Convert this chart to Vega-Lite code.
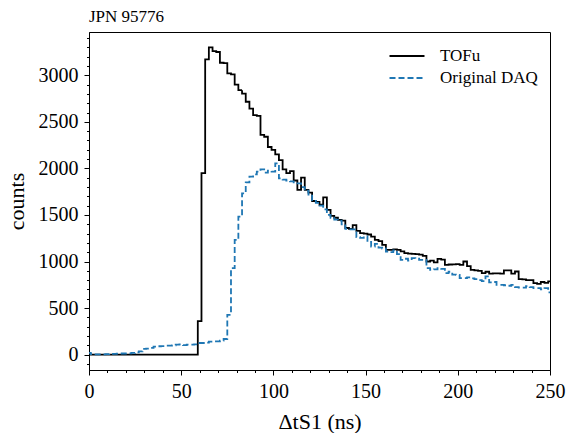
{
  "$schema": "https://vega.github.io/schema/vega-lite/v6.json",
  "width": 461,
  "height": 338,
  "autosize": {"type": "none"},
  "padding": {"left": 89, "top": 32, "right": 16, "bottom": 63},
  "title": {"text": "JPN 95776", "anchor": "start", "frame": "group", "fontSize": 17, "font": "Liberation Serif", "fontWeight": "normal", "color": "black", "baseline": "alphabetic", "offset": -7},
  "config": {
    "view": {"stroke": "black", "strokeWidth": 1},
    "font": "Liberation Serif",
    "axis": {"domainColor": "black", "domainWidth": 1, "tickColor": "black", "tickWidth": 1, "tickSize": 5, "labelFont": "Liberation Serif", "labelFontSize": 20, "labelColor": "black", "titleFont": "Liberation Serif", "titleFontSize": 22, "titleFontWeight": "normal", "titleColor": "black", "grid": false, "labelPadding": 6, "labelOverlap": false, "labelFlush": false},
    "legend": {"orient": "none", "legendX": 308, "legendY": 14, "title": null, "labelFont": "Liberation Serif", "labelFontSize": 17, "labelColor": "black", "symbolType": "M-2,0H2", "symbolSize": 306, "symbolStrokeWidth": 1.8, "labelOffset": 23, "rowPadding": 4, "padding": 0}
  },
  "datasets": {
    "h": [
      {"t":-1,"c":0,"s":"TOFu"},{"t":1,"c":0,"s":"TOFu"},{"t":3,"c":0,"s":"TOFu"},{"t":5,"c":0,"s":"TOFu"},{"t":7,"c":0,"s":"TOFu"},{"t":9,"c":0,"s":"TOFu"},{"t":11,"c":0,"s":"TOFu"},{"t":13,"c":0,"s":"TOFu"},{"t":15,"c":0,"s":"TOFu"},{"t":17,"c":0,"s":"TOFu"},{"t":19,"c":0,"s":"TOFu"},{"t":21,"c":0,"s":"TOFu"},{"t":23,"c":0,"s":"TOFu"},{"t":25,"c":0,"s":"TOFu"},{"t":27,"c":0,"s":"TOFu"},{"t":29,"c":0,"s":"TOFu"},{"t":31,"c":0,"s":"TOFu"},{"t":33,"c":0,"s":"TOFu"},{"t":35,"c":0,"s":"TOFu"},{"t":37,"c":0,"s":"TOFu"},{"t":39,"c":0,"s":"TOFu"},{"t":41,"c":0,"s":"TOFu"},{"t":43,"c":0,"s":"TOFu"},{"t":45,"c":0,"s":"TOFu"},{"t":47,"c":0,"s":"TOFu"},{"t":49,"c":0,"s":"TOFu"},{"t":51,"c":0,"s":"TOFu"},{"t":53,"c":0,"s":"TOFu"},{"t":55,"c":0,"s":"TOFu"},{"t":57,"c":0,"s":"TOFu"},
      {"t":59,"c":360,"s":"TOFu"},{"t":61,"c":1950,"s":"TOFu"},{"t":63,"c":3170,"s":"TOFu"},{"t":65,"c":3300,"s":"TOFu"},{"t":67,"c":3260,"s":"TOFu"},{"t":69,"c":3250,"s":"TOFu"},{"t":71,"c":3135,"s":"TOFu"},{"t":73,"c":3130,"s":"TOFu"},{"t":75,"c":3020,"s":"TOFu"},{"t":77,"c":3010,"s":"TOFu"},{"t":79,"c":2900,"s":"TOFu"},{"t":81,"c":2840,"s":"TOFu"},{"t":83,"c":2804,"s":"TOFu"},{"t":85,"c":2716,"s":"TOFu"},{"t":87,"c":2643,"s":"TOFu"},{"t":89,"c":2572,"s":"TOFu"},{"t":91,"c":2565,"s":"TOFu"},{"t":93,"c":2360,"s":"TOFu"},{"t":95,"c":2340,"s":"TOFu"},{"t":97,"c":2230,"s":"TOFu"},{"t":99,"c":2200,"s":"TOFu"},{"t":101,"c":2150,"s":"TOFu"},{"t":103,"c":2090,"s":"TOFu"},{"t":105,"c":1990,"s":"TOFu"},{"t":107,"c":1950,"s":"TOFu"},{"t":109,"c":1970,"s":"TOFu"},{"t":111,"c":1870,"s":"TOFu"},{"t":113,"c":1770,"s":"TOFu"},{"t":115,"c":1900,"s":"TOFu"},{"t":117,"c":1770,"s":"TOFu"},{"t":119,"c":1740,"s":"TOFu"},{"t":121,"c":1650,"s":"TOFu"},{"t":123,"c":1640,"s":"TOFu"},{"t":125,"c":1610,"s":"TOFu"},{"t":127,"c":1690,"s":"TOFu"},{"t":129,"c":1554,"s":"TOFu"},{"t":131,"c":1490,"s":"TOFu"},{"t":133,"c":1470,"s":"TOFu"},{"t":135,"c":1447,"s":"TOFu"},{"t":137,"c":1440,"s":"TOFu"},{"t":139,"c":1360,"s":"TOFu"},{"t":141,"c":1350,"s":"TOFu"},{"t":143,"c":1390,"s":"TOFu"},{"t":145,"c":1330,"s":"TOFu"},{"t":147,"c":1304,"s":"TOFu"},{"t":149,"c":1300,"s":"TOFu"},{"t":151,"c":1290,"s":"TOFu"},{"t":153,"c":1268,"s":"TOFu"},{"t":155,"c":1233,"s":"TOFu"},{"t":157,"c":1220,"s":"TOFu"},{"t":159,"c":1179,"s":"TOFu"},{"t":161,"c":1125,"s":"TOFu"},{"t":163,"c":1125,"s":"TOFu"},{"t":165,"c":1130,"s":"TOFu"},{"t":167,"c":1125,"s":"TOFu"},{"t":169,"c":1110,"s":"TOFu"},{"t":171,"c":1090,"s":"TOFu"},{"t":173,"c":1085,"s":"TOFu"},{"t":175,"c":1082,"s":"TOFu"},{"t":177,"c":1080,"s":"TOFu"},{"t":179,"c":1075,"s":"TOFu"},{"t":181,"c":1060,"s":"TOFu"},{"t":183,"c":1000,"s":"TOFu"},{"t":185,"c":1010,"s":"TOFu"},{"t":187,"c":990,"s":"TOFu"},{"t":189,"c":1029,"s":"TOFu"},{"t":191,"c":1020,"s":"TOFu"},{"t":193,"c":965,"s":"TOFu"},{"t":195,"c":968,"s":"TOFu"},{"t":197,"c":970,"s":"TOFu"},{"t":199,"c":972,"s":"TOFu"},{"t":201,"c":965,"s":"TOFu"},{"t":203,"c":1000,"s":"TOFu"},{"t":205,"c":950,"s":"TOFu"},{"t":207,"c":911,"s":"TOFu"},{"t":209,"c":905,"s":"TOFu"},{"t":211,"c":900,"s":"TOFu"},{"t":213,"c":876,"s":"TOFu"},{"t":215,"c":890,"s":"TOFu"},{"t":217,"c":870,"s":"TOFu"},{"t":219,"c":872,"s":"TOFu"},{"t":221,"c":872,"s":"TOFu"},{"t":223,"c":870,"s":"TOFu"},{"t":225,"c":904,"s":"TOFu"},{"t":227,"c":904,"s":"TOFu"},{"t":229,"c":870,"s":"TOFu"},{"t":231,"c":893,"s":"TOFu"},{"t":233,"c":810,"s":"TOFu"},{"t":235,"c":808,"s":"TOFu"},{"t":237,"c":800,"s":"TOFu"},{"t":239,"c":800,"s":"TOFu"},{"t":241,"c":768,"s":"TOFu"},{"t":243,"c":760,"s":"TOFu"},{"t":245,"c":780,"s":"TOFu"},{"t":247,"c":770,"s":"TOFu"},{"t":249,"c":786,"s":"TOFu"},{"t":251,"c":786,"s":"TOFu"},
      {"t":-1,"c":18,"s":"Original DAQ"},{"t":1,"c":5,"s":"Original DAQ"},{"t":3,"c":2,"s":"Original DAQ"},{"t":5,"c":2,"s":"Original DAQ"},{"t":7,"c":3,"s":"Original DAQ"},{"t":9,"c":5,"s":"Original DAQ"},{"t":11,"c":8,"s":"Original DAQ"},{"t":13,"c":8,"s":"Original DAQ"},{"t":15,"c":10,"s":"Original DAQ"},{"t":17,"c":12,"s":"Original DAQ"},{"t":19,"c":12,"s":"Original DAQ"},{"t":21,"c":14,"s":"Original DAQ"},{"t":23,"c":18,"s":"Original DAQ"},{"t":25,"c":25,"s":"Original DAQ"},{"t":27,"c":36,"s":"Original DAQ"},{"t":29,"c":61,"s":"Original DAQ"},{"t":31,"c":65,"s":"Original DAQ"},{"t":33,"c":72,"s":"Original DAQ"},{"t":35,"c":85,"s":"Original DAQ"},{"t":37,"c":90,"s":"Original DAQ"},{"t":39,"c":92,"s":"Original DAQ"},{"t":41,"c":97,"s":"Original DAQ"},{"t":43,"c":97,"s":"Original DAQ"},{"t":45,"c":100,"s":"Original DAQ"},{"t":47,"c":107,"s":"Original DAQ"},{"t":49,"c":110,"s":"Original DAQ"},{"t":51,"c":103,"s":"Original DAQ"},{"t":53,"c":108,"s":"Original DAQ"},{"t":55,"c":107,"s":"Original DAQ"},{"t":57,"c":110,"s":"Original DAQ"},{"t":59,"c":125,"s":"Original DAQ"},{"t":61,"c":125,"s":"Original DAQ"},{"t":63,"c":130,"s":"Original DAQ"},{"t":65,"c":140,"s":"Original DAQ"},{"t":67,"c":143,"s":"Original DAQ"},{"t":69,"c":143,"s":"Original DAQ"},{"t":71,"c":150,"s":"Original DAQ"},{"t":73,"c":168,"s":"Original DAQ"},{"t":75,"c":428,"s":"Original DAQ"},{"t":77,"c":929,"s":"Original DAQ"},{"t":79,"c":1232,"s":"Original DAQ"},{"t":81,"c":1482,"s":"Original DAQ"},{"t":83,"c":1732,"s":"Original DAQ"},{"t":85,"c":1850,"s":"Original DAQ"},{"t":87,"c":1911,"s":"Original DAQ"},{"t":89,"c":1935,"s":"Original DAQ"},{"t":91,"c":1965,"s":"Original DAQ"},{"t":93,"c":1990,"s":"Original DAQ"},{"t":95,"c":1955,"s":"Original DAQ"},{"t":97,"c":1976,"s":"Original DAQ"},{"t":99,"c":1965,"s":"Original DAQ"},{"t":101,"c":2054,"s":"Original DAQ"},{"t":103,"c":1893,"s":"Original DAQ"},{"t":105,"c":1880,"s":"Original DAQ"},{"t":107,"c":1870,"s":"Original DAQ"},{"t":109,"c":1860,"s":"Original DAQ"},{"t":111,"c":1840,"s":"Original DAQ"},{"t":113,"c":1840,"s":"Original DAQ"},{"t":115,"c":1800,"s":"Original DAQ"},{"t":117,"c":1760,"s":"Original DAQ"},{"t":119,"c":1720,"s":"Original DAQ"},{"t":121,"c":1660,"s":"Original DAQ"},{"t":123,"c":1630,"s":"Original DAQ"},{"t":125,"c":1600,"s":"Original DAQ"},{"t":127,"c":1560,"s":"Original DAQ"},{"t":129,"c":1500,"s":"Original DAQ"},{"t":131,"c":1470,"s":"Original DAQ"},{"t":133,"c":1450,"s":"Original DAQ"},{"t":135,"c":1440,"s":"Original DAQ"},{"t":137,"c":1400,"s":"Original DAQ"},{"t":139,"c":1350,"s":"Original DAQ"},{"t":141,"c":1346,"s":"Original DAQ"},{"t":143,"c":1346,"s":"Original DAQ"},{"t":145,"c":1261,"s":"Original DAQ"},{"t":147,"c":1255,"s":"Original DAQ"},{"t":149,"c":1270,"s":"Original DAQ"},{"t":151,"c":1210,"s":"Original DAQ"},{"t":153,"c":1161,"s":"Original DAQ"},{"t":155,"c":1190,"s":"Original DAQ"},{"t":157,"c":1150,"s":"Original DAQ"},{"t":159,"c":1140,"s":"Original DAQ"},{"t":161,"c":1107,"s":"Original DAQ"},{"t":163,"c":1100,"s":"Original DAQ"},{"t":165,"c":1120,"s":"Original DAQ"},{"t":167,"c":1080,"s":"Original DAQ"},{"t":169,"c":1018,"s":"Original DAQ"},{"t":171,"c":1030,"s":"Original DAQ"},{"t":173,"c":1010,"s":"Original DAQ"},{"t":175,"c":1036,"s":"Original DAQ"},{"t":177,"c":1030,"s":"Original DAQ"},{"t":179,"c":1018,"s":"Original DAQ"},{"t":181,"c":1018,"s":"Original DAQ"},{"t":183,"c":929,"s":"Original DAQ"},{"t":185,"c":911,"s":"Original DAQ"},{"t":187,"c":915,"s":"Original DAQ"},{"t":189,"c":929,"s":"Original DAQ"},{"t":191,"c":920,"s":"Original DAQ"},{"t":193,"c":876,"s":"Original DAQ"},{"t":195,"c":890,"s":"Original DAQ"},{"t":197,"c":860,"s":"Original DAQ"},{"t":199,"c":857,"s":"Original DAQ"},{"t":201,"c":822,"s":"Original DAQ"},{"t":203,"c":822,"s":"Original DAQ"},{"t":205,"c":830,"s":"Original DAQ"},{"t":207,"c":820,"s":"Original DAQ"},{"t":209,"c":810,"s":"Original DAQ"},{"t":211,"c":800,"s":"Original DAQ"},{"t":213,"c":790,"s":"Original DAQ"},{"t":215,"c":840,"s":"Original DAQ"},{"t":217,"c":775,"s":"Original DAQ"},{"t":219,"c":780,"s":"Original DAQ"},{"t":221,"c":750,"s":"Original DAQ"},{"t":223,"c":750,"s":"Original DAQ"},{"t":225,"c":745,"s":"Original DAQ"},{"t":227,"c":740,"s":"Original DAQ"},{"t":229,"c":750,"s":"Original DAQ"},{"t":231,"c":725,"s":"Original DAQ"},{"t":233,"c":720,"s":"Original DAQ"},{"t":235,"c":720,"s":"Original DAQ"},{"t":237,"c":735,"s":"Original DAQ"},{"t":239,"c":725,"s":"Original DAQ"},{"t":241,"c":714,"s":"Original DAQ"},{"t":243,"c":714,"s":"Original DAQ"},{"t":245,"c":700,"s":"Original DAQ"},{"t":247,"c":714,"s":"Original DAQ"},{"t":249,"c":668,"s":"Original DAQ"},{"t":251,"c":668,"s":"Original DAQ"}
    ]
  },
  "data": {"name": "h"},
  "layer": [
    {
      "mark": {"type": "line", "interpolate": "step-after", "strokeWidth": 1.8, "clip": true},
      "encoding": {
        "x": {"field": "t", "type": "quantitative", "scale": {"domain": [0, 250], "nice": false, "zero": false}, "axis": {"orient": "bottom", "values": [0, 50, 100, 150, 200, 250], "format": "d", "title": "ΔtS1 (ns)", "titlePadding": 10}},
        "y": {"field": "c", "type": "quantitative", "scale": {"domain": [-165, 3465], "nice": false, "zero": false}, "axis": {"orient": "left", "values": [0, 500, 1000, 1500, 2000, 2500, 3000], "format": "d", "title": "counts", "titlePadding": 10}},
        "color": {"field": "s", "type": "nominal", "scale": {"domain": ["TOFu", "Original DAQ"], "range": ["#000000", "#1f77b4"]}},
        "strokeDash": {"field": "s", "type": "nominal", "scale": {"domain": ["TOFu", "Original DAQ"], "range": [[1, 0], [6, 3]]}}
      }
    },
    {
      "mark": {"type": "line", "opacity": 0, "clip": true},
      "encoding": {
        "x": {"field": "t", "type": "quantitative", "scale": {"domain": [0, 250], "nice": false, "zero": false}, "axis": {"orient": "bottom", "values": [10, 20, 30, 40, 60, 70, 80, 90, 110, 120, 130, 140, 160, 170, 180, 190, 210, 220, 230, 240], "labels": false, "domain": false, "tickSize": 2.5, "title": null}},
        "y": {"field": "c", "type": "quantitative", "scale": {"domain": [-165, 3465], "nice": false, "zero": false}, "axis": {"orient": "left", "values": [-100, 100, 200, 300, 400, 600, 700, 800, 900, 1100, 1200, 1300, 1400, 1600, 1700, 1800, 1900, 2100, 2200, 2300, 2400, 2600, 2700, 2800, 2900, 3100, 3200, 3300, 3400], "labels": false, "domain": false, "tickSize": 2.5, "title": null}}
      }
    }
  ],
  "resolve": {"axis": {"x": "independent", "y": "independent"}}
}
